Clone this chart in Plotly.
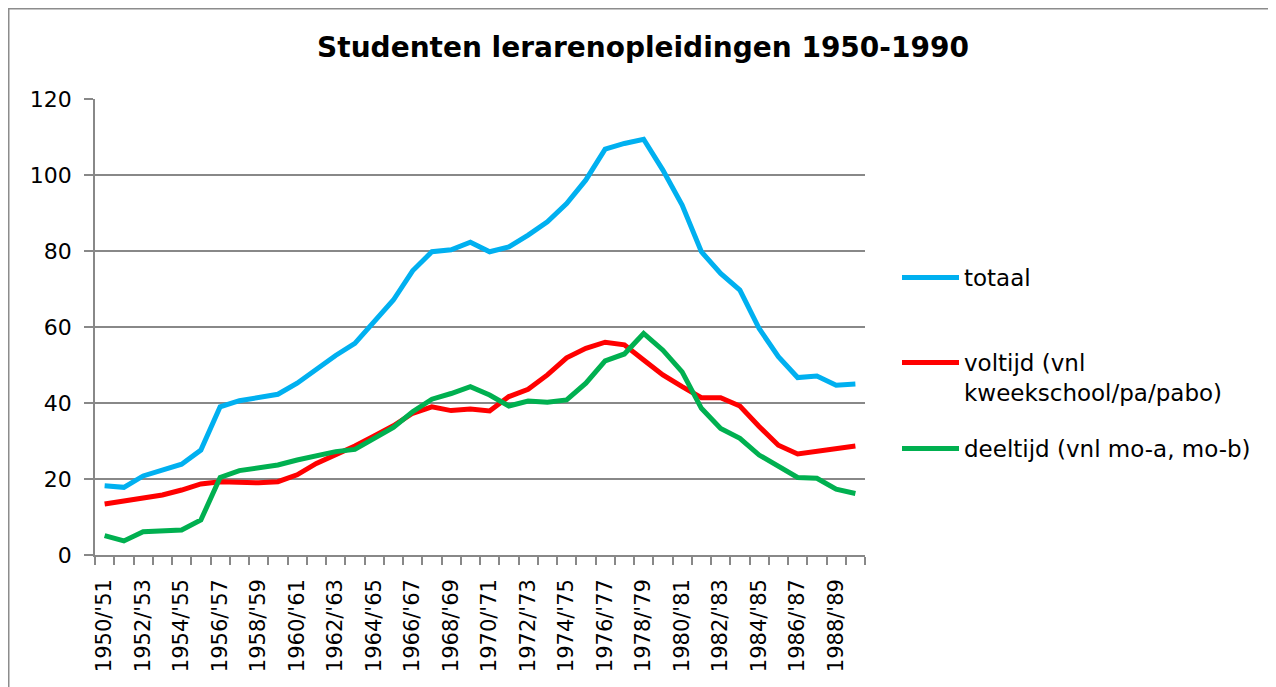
import plotly.graph_objects as go

categories = [f"{y}/'{(y + 1) % 100:02d}" for y in range(1950, 1990)]

totaal = [18.2, 17.8, 20.8, 22.2, 23.9, 27.6, 39.0, 40.6, 41.5, 42.3,
          45.2, 48.9, 52.5, 55.7, 61.4, 67.1, 74.8, 79.8, 80.3, 82.3,
          79.8, 81.1, 84.2, 87.7, 92.5, 98.7, 106.8, 108.3, 109.4, 101.3,
          92.1, 79.8, 74.1, 69.7, 59.6, 52.2, 46.7, 47.1, 44.7, 45.0]

voltijd = [13.4, 14.3, 14.9, 15.8, 17.1, 18.7, 19.3, 19.0, 19.0, 19.3,
           21.1, 24.1, 26.3, 28.7, 31.3, 34.0, 37.3, 39.0, 38.0, 38.4,
           37.9, 41.7, 43.6, 47.4, 51.9, 54.4, 56.0, 55.3, 51.3, 47.4,
           44.3, 41.4, 41.4, 39.2, 33.8, 28.9, 26.6, 27.2, 27.8, 28.7]

deeltijd = [5.1, 3.7, 6.1, 6.4, 6.6, 9.2, 20.4, 22.2, 23.1, 23.7,
            25.0, 26.1, 27.2, 27.8, 30.7, 33.6, 37.7, 41.0, 42.5, 44.3,
            42.1, 39.2, 40.5, 40.2, 40.8, 45.2, 51.1, 52.9, 58.3, 53.9,
            48.2, 38.6, 33.3, 30.7, 26.3, 23.2, 20.4, 20.2, 17.3, 16.2]

series_names = ["totaal", "voltijd (vnl<br>kweekschool/pa/pabo)", "deeltijd (vnl mo-a, mo-b)"]
series_colors = ["#00B0F0", "#FF0000", "#00B050"]
legend_ids = ["legend", "legend2", "legend3"]

x_idx = list(range(len(categories)))
tick_idx = x_idx[::2]
tick_txt = categories[::2]

fig = go.Figure()
for name, vals, col, lg in zip(series_names, [totaal, voltijd, deeltijd], series_colors, legend_ids):
    fig.add_trace(go.Scatter(x=x_idx, y=vals, mode="lines", name=name,
                             legend=lg,
                             line=dict(color=col, width=5, shape="linear")))

grid_col = "#888888"
# figure is drawn inside the page's 8px body margin
W, H = 1268, 679
L, R, T, B = 87, 857, 91, 547
PW, PH = R - L, B - T


def px_x(v):
    return (v - L) / PW


def px_y(v):
    return (B - v) / PH


leg_font = dict(family="DejaVu Sans", size=23, color="black")
leg_common = dict(x=px_x(889), xanchor="left", yanchor="top", font=leg_font,
                  valign="top", itemwidth=57, bgcolor="rgba(0,0,0,0)")

fig.update_layout(
    width=W, height=H,
    margin=dict(l=L, r=W - R, t=T, b=H - B, autoexpand=False),
    paper_bgcolor="white", plot_bgcolor="white",
    title=dict(text="<b>Studenten lerarenopleidingen 1950-1990</b>",
               x=635 / W, xref="container", xanchor="center",
               y=1 - 39 / H, yref="container", yanchor="middle",
               font=dict(family="DejaVu Sans", size=28, color="black")),
    showlegend=True,
    legend=dict(y=px_y(248), **leg_common),
    legend2=dict(y=px_y(333), **leg_common),
    legend3=dict(y=px_y(419), **leg_common),
    xaxis=dict(range=[-0.5, len(categories) - 0.5],
               tickmode="array", tickvals=tick_idx, ticktext=tick_txt,
               tickangle=-90, ticks="", showgrid=False, automargin=False,
               showline=True, linecolor=grid_col, linewidth=1.5,
               tickfont=dict(family="DejaVu Sans", size=21, color="black"),
               ticklabelstandoff=14,
               minor=dict(ticks="outside", tick0=-0.5, dtick=1, ticklen=8,
                          tickcolor=grid_col, tickwidth=1.5, showgrid=False),
               zeroline=False, fixedrange=True),
    yaxis=dict(range=[0, 120], dtick=20, tick0=0, automargin=False,
               showgrid=True, gridcolor=grid_col, gridwidth=1.5,
               showline=True, linecolor=grid_col, linewidth=1.5,
               ticks="outside", ticklen=9, tickcolor=grid_col, tickwidth=1.5,
               ticklabelstandoff=8,
               tickfont=dict(family="DejaVu Sans", size=22, color="black"),
               zeroline=False, fixedrange=True),
    shapes=[dict(type="rect", xref="paper", yref="paper",
                 x0=px_x(0.75), x1=px_x(1300),
                 y0=px_y(720), y1=px_y(0.75),
                 line=dict(color="#8c8c8c", width=1.5), layer="below")],
)

fig.write_html("out.html")
